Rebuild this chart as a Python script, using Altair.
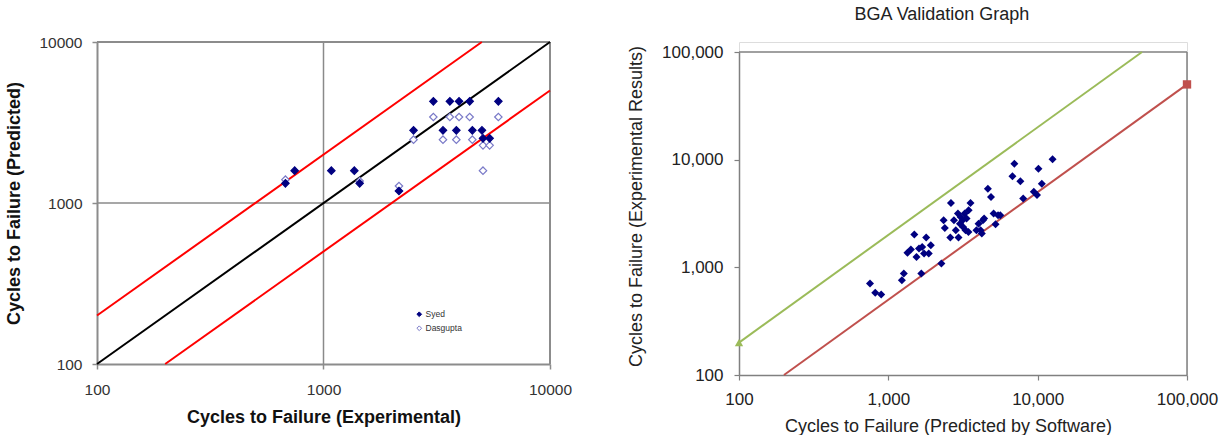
import altair as alt
import pandas as pd

FONT = "Liberation Sans"

# ---------------- Left chart data ----------------
left_series = ["Syed", "Dasgupta"]
syed_exp = [679, 746, 1083, 1368, 1444, 2154, 2497, 3055, 3613, 3966, 4420, 5916, 3369, 3859, 4541, 5006, 5060, 5413]
syed_pred = [1325, 1588, 1588, 1588, 1325, 1187, 2826, 4281, 4281, 4281, 4281, 4281, 2826, 2826, 2826, 2826, 2522, 2522]
dasgupta_exp = [679, 1444, 2154, 2497, 3055, 3613, 3966, 4420, 5916, 3369, 3859, 4541, 5060, 5413, 5060]
dasgupta_pred = [1396, 1368, 1275, 2474, 3420, 3420, 3420, 3420, 3420, 2474, 2474, 2474, 2280, 2280, 1588]
left_ticks = [100, 1000, 10000]
left_grid = [1000]
left_max = [10000]
left_line_names = ["1:1", "upper", "lower"]
left_line_x = [[100, 10000], [100, 5000], [200, 10000]]
left_line_y = [[100, 10000], [200, 10000], [100, 5000]]
left_line_colors = ["#000000", "#ff0000", "#ff0000"]

# ---------------- Right chart data ----------------
bga_pred = [754, 817, 896, 1232, 1270, 1663, 1343, 1416, 1492, 1544, 1604, 1685, 1735, 1793, 1865, 1925,
            2265, 2345, 2390, 2625, 2600, 2750, 2830, 2925, 3017, 3050, 3140, 2950, 3165, 3245, 3290, 3340,
            3450, 3550, 3440, 3890, 4020, 4150, 4225, 4300, 4380, 4640, 4870, 5070, 5225, 5430, 5620,
            6780, 6980, 7660, 8000, 9420, 9900, 10120, 10660, 12580]
bga_exp = [708, 580, 560, 760, 877, 877, 1363, 1462, 2016, 1250, 1498, 1548, 1344, 1896, 1344, 1600,
           1085, 2735, 2323, 3963, 1893, 2735, 2213, 3155, 2546, 2937, 2735, 1893, 2375, 3155, 2213, 2840,
           3390, 3963, 2130, 2213, 2546, 2213, 2060, 2735, 2840, 5383, 4505, 3155, 2513, 3047, 3047,
           7000, 9180, 6300, 4350, 5035, 4690, 8250, 5990, 10070]
right_ticks = [100, 1000, 10000, 100000]
right_min = [100]
right_max = [100000]
right_line_names = ["upper", "lower"]
right_line_x = [[100, 50000], [200, 100000]]
right_line_y = [[200, 100000], [100, 50000]]
right_line_colors = ["#9bbb59", "#c0504d"]
right_marker_x = [100, 100000]
right_marker_y = [200, 50000]
right_marker_shapes = ["triangle-up", "square"]

# ---------------- tables ----------------
pts_left = pd.DataFrame({
    "x": dasgupta_exp + syed_exp,
    "y": dasgupta_pred + syed_pred,
    "series": ["Dasgupta"] * len(dasgupta_exp) + ["Syed"] * len(syed_exp),
})
lines_left = pd.DataFrame({
    "x": [v for xs in left_line_x for v in xs],
    "y": [v for ys in left_line_y for v in ys],
    "line": [n for n in left_line_names for _ in range(2)],
})
grid_left = pd.DataFrame({"x": left_grid, "y": left_grid})
border_left = pd.DataFrame({"x": left_max, "y": left_max})

pts_right = pd.DataFrame({"x": bga_pred, "y": bga_exp})
lines_right = pd.DataFrame({
    "x": [v for xs in right_line_x for v in xs],
    "y": [v for ys in right_line_y for v in ys],
    "rline": [n for n in right_line_names for _ in range(2)],
})
markers_right = pd.DataFrame({"x": right_marker_x, "y": right_marker_y, "rline": right_line_names})
border_right = pd.DataFrame({"x": right_max, "y": right_max, "ylo": right_min})

# ---------------- left chart ----------------
lx = alt.X("x:Q", scale=alt.Scale(type="log", domain=[100, 10000], nice=False),
           axis=alt.Axis(values=left_ticks, format="d", grid=False, labelFlush=False,
                         title="Cycles to Failure (Experimental)", titleFont=FONT, titleFontSize=18,
                         titleFontWeight="bold", titleColor="#111", titlePadding=11,
                         labelFont=FONT, labelFontSize=15.5, labelColor="#333", labelPadding=13,
                         domainColor="#8c8c8c", domainWidth=2, tickColor="#8c8c8c", tickWidth=1.5,
                         tickSize=5))
ly = alt.Y("y:Q", scale=alt.Scale(type="log", domain=[100, 10000], nice=False),
           axis=alt.Axis(values=left_ticks, format="d", grid=False, labelFlush=False,
                         title="Cycles to Failure (Predicted)", titleFont=FONT, titleFontSize=18,
                         titleFontWeight="bold", titleColor="#111", titlePadding=15,
                         labelFont=FONT, labelFontSize=15.5, labelColor="#333", labelPadding=10,
                         domainColor="#8c8c8c", domainWidth=2, tickColor="#8c8c8c", tickWidth=1.5,
                         tickSize=5))

vgrid = alt.Chart(grid_left).mark_rule(color="#8a8a8a", strokeWidth=1.5).encode(x=lx)
hgrid = alt.Chart(grid_left).mark_rule(color="#8a8a8a", strokeWidth=1.5).encode(y=ly)
ltop = alt.Chart(border_left).mark_rule(color="#8c8c8c", strokeWidth=2).encode(y=ly)
lright = alt.Chart(border_left).mark_rule(color="#8c8c8c", strokeWidth=2).encode(x=lx)
llines = alt.Chart(lines_left).mark_line(strokeWidth=2).encode(
    x=lx, y=ly, detail="line:N",
    color=alt.Color("line:N", scale=alt.Scale(domain=left_line_names, range=left_line_colors), legend=None))
leg = alt.Legend(title=None, orient="none", legendX=318, legendY=268, symbolType="diamond",
                 symbolSize=22, symbolStrokeWidth=1, labelFont=FONT, labelFontSize=8.5,
                 labelColor="#333", rowPadding=4, labelOffset=2)
lpts = alt.Chart(pts_left).mark_point(shape="diamond", filled=True, size=55, strokeWidth=1.2, opacity=1).encode(
    x=lx, y=ly,
    fill=alt.Fill("series:N", scale=alt.Scale(domain=left_series, range=["#000080", "#ffffff"]), legend=leg),
    stroke=alt.Stroke("series:N", scale=alt.Scale(domain=left_series, range=["#000080", "#7a7ac8"]), legend=leg),
)
left = alt.layer(vgrid, hgrid, ltop, lright, llines, lpts).properties(width=453, height=322)

# ---------------- right chart ----------------
RH = 333
rx = alt.X("x:Q", scale=alt.Scale(type="log", domain=[100, 100000], nice=False),
           axis=alt.Axis(values=right_ticks, format=",d", grid=False, labelFlush=False,
                         title="Cycles to Failure (Predicted by Software)", titleFont=FONT, titleFontSize=18,
                         titleFontWeight="normal", titleColor="#222", titlePadding=9.5, titleX=209,
                         labelFont=FONT, labelFontSize=17, labelColor="#222", labelPadding=11.5,
                         domainColor="#808080", domainWidth=1.5, tickColor="#808080", tickWidth=1.2,
                         tickSize=5))
ry = alt.Y("y:Q", scale=alt.Scale(type="log", domain=[100, 100000], nice=False, range=[RH, 10]),
           axis=alt.Axis(values=right_ticks, format=",d", grid=False, labelFlush=False,
                         title="Cycles to Failure (Experimental Results)", titleFont=FONT, titleFontSize=18,
                         titleFontWeight="normal", titleColor="#222", titlePadding=16, titleY=164,
                         labelFont=FONT, labelFontSize=17, labelColor="#222", labelPadding=11,
                         domainColor="#808080", domainWidth=1.5, tickColor="#808080", tickWidth=1.2,
                         tickSize=5))
rtop = alt.Chart(border_right).mark_rule(color="#808080", strokeWidth=1.5).encode(y=ry)
rright = alt.Chart(border_right).mark_rule(color="#808080", strokeWidth=1.5).encode(
    x=rx, y=alt.Y("ylo:Q", scale=alt.Scale(type="log", domain=[100, 100000], nice=False, range=[RH, 10])),
    y2=alt.Y2("y:Q"))
rlines = alt.Chart(lines_right).mark_line(strokeWidth=2).encode(
    x=rx, y=ry, detail="rline:N",
    color=alt.Color("rline:N", scale=alt.Scale(domain=right_line_names, range=right_line_colors), legend=None))
rmarks = alt.Chart(markers_right).mark_point(filled=True, size=70, opacity=1).encode(
    x=rx, y=ry,
    shape=alt.Shape("rline:N", scale=alt.Scale(domain=right_line_names, range=right_marker_shapes), legend=None),
    color=alt.Color("rline:N", scale=alt.Scale(domain=right_line_names, range=right_line_colors), legend=None))
rpts = alt.Chart(pts_right).mark_point(shape="diamond", filled=True, size=64, color="#000080", opacity=1).encode(
    x=rx, y=ry)
right = alt.layer(rtop, rright, rlines, rmarks, rpts).properties(
    width=448, height=RH,
    title=alt.TitleParams("BGA Validation Graph", fontSize=18, font=FONT, fontWeight="normal",
                          color="#222", offset=18, dx=-21))

chart = alt.hconcat(left, right, spacing=54).resolve_scale(
    color="independent", shape="independent"
).properties(
    padding={"left": 5, "top": 5, "right": 0, "bottom": 0}
).configure_view(stroke="transparent").configure(background="white")

chart.save("out.html", embed_options={"renderer": "svg", "actions": False})
